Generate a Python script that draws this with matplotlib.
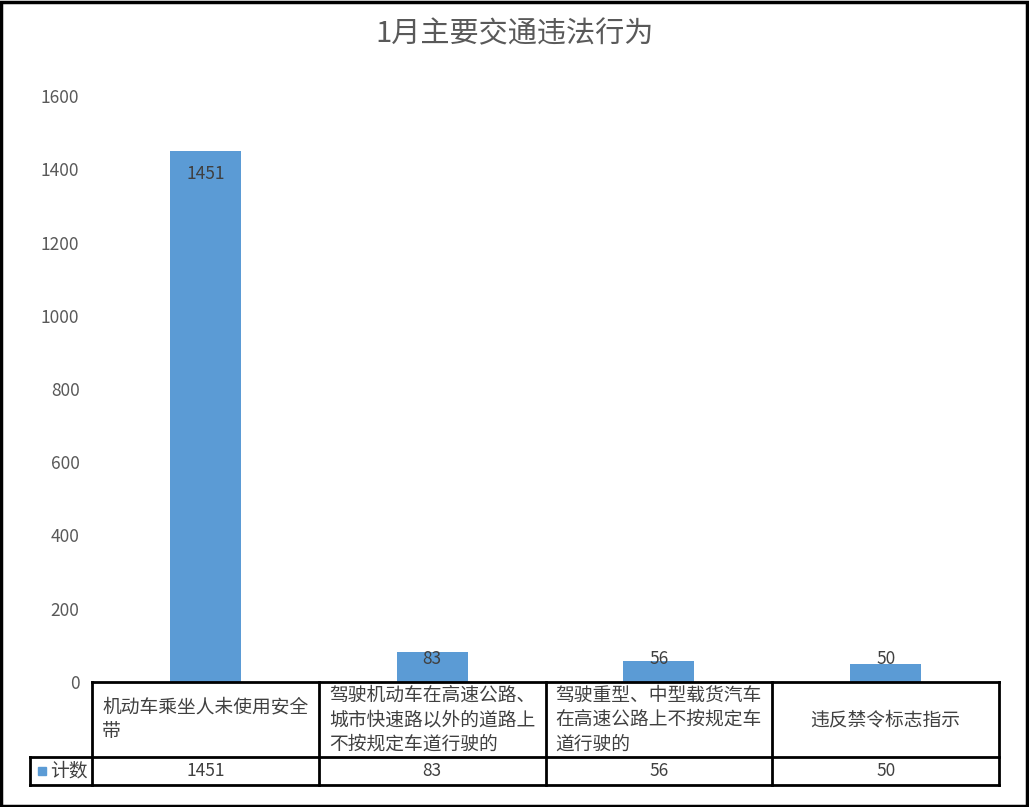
import matplotlib
matplotlib.use('Agg')
import matplotlib.pyplot as plt
from matplotlib.lines import Line2D
from matplotlib.patches import Rectangle
from matplotlib.transforms import blended_transform_factory

plt.rcParams['font.family'] = ['Noto Sans CJK SC', 'DejaVu Sans']

title = '1月主要交通违法行为'
categories = ['机动车乘坐人未使用安全\n带',
              '驾驶机动车在高速公路、\n城市快速路以外的道路上\n不按规定车道行驶的',
              '驾驶重型、中型载货汽车\n在高速公路上不按规定车\n道行驶的',
              '违反禁令标志指示']
series_name = '计数'
values = [1451, 83, 56, 50]
yticks = [0, 200, 400, 600, 800, 1000, 1200, 1400, 1600]

W, H = 1029, 807
bar_color = '#5B9BD5'
text_gray = '#595959'
dark = '#404040'

fig = plt.figure(figsize=(W / 100, H / 100), dpi=100)

# plot area in pixels
left, right, bottom, top = 92, 999, 682, 96
ax = fig.add_axes([left / W, 1 - bottom / H, (right - left) / W, (bottom - top) / H])
x = list(range(len(values)))
ax.bar(x, values, width=0.313, color=bar_color, zorder=2)
ax.set_xlim(-0.5, len(values) - 0.5)
ax.set_ylim(0, 1600)
ax.set_yticks(yticks)
ax.set_yticklabels([str(t) for t in yticks], fontsize=12.5, color=text_gray)
ax.tick_params(axis='y', length=0, pad=9)
ax.set_xticks([])
for s in ax.spines.values():
    s.set_visible(False)

# data labels
for xi, v in zip(x, values):
    if v > 300:
        ax.annotate(str(v), (xi, v), xytext=(0, -23), textcoords='offset pixels',
                    ha='center', va='center', fontsize=12.5, color=dark)
    else:
        ax.annotate(str(v), (xi, 0), xytext=(0, 23), textcoords='offset pixels',
                    ha='center', va='center', fontsize=12.5, color=dark)

fig.text(0.5, 1 - 34 / H, title, ha='center', va='center', fontsize=21, color=text_gray)

# data table below the plot
tr = blended_transform_factory(ax.transData, fig.transFigure)
y_top, y_mid, y_bot = 1 - 682 / H, 1 - 757 / H, 1 - 785 / H
x_min, x_max = -0.5, len(values) - 0.5
lw = 2
x_leg = -0.5 - (left - 30) / ((right - left) / len(values))

def hline(x0, x1, y):
    ax.add_line(Line2D([x0, x1], [y, y], transform=tr, color='black', lw=lw, clip_on=False))

def vline(xx, y0, y1):
    ax.add_line(Line2D([xx, xx], [y0, y1], transform=tr, color='black', lw=lw, clip_on=False))

hline(x_min, x_max, y_top)
hline(x_leg, x_max, y_mid)
hline(x_leg, x_max, y_bot)
vline(x_leg, y_mid, y_bot)
for b in range(len(values) + 1):
    vline(b - 0.5, y_bot, y_top)

for xi, cat, v in zip(x, categories, values):
    ax.text(xi, (y_top + y_mid) / 2, cat, transform=tr, ha='center', va='center',
            multialignment='left', fontsize=13.5, color=dark, linespacing=1.22)
    ax.text(xi, (y_mid + y_bot) / 2, str(v), transform=tr, ha='center', va='center',
            fontsize=12.5, color=dark)

# legend key in the table
fig.patches.append(Rectangle((38 / W, 1 - 775 / H), 8 / W, 8 / H, transform=fig.transFigure,
                             color=bar_color))
fig.text(50 / W, (y_mid + y_bot) / 2, series_name, ha='left', va='center',
         fontsize=13.5, color=dark)

# outer border
fig.patches.append(Rectangle((1 / W, 1 / H), (W - 3) / W, (H - 3) / H, transform=fig.transFigure,
                             fill=False, edgecolor='black', lw=2.5))

fig.savefig('out.png', dpi=100)
